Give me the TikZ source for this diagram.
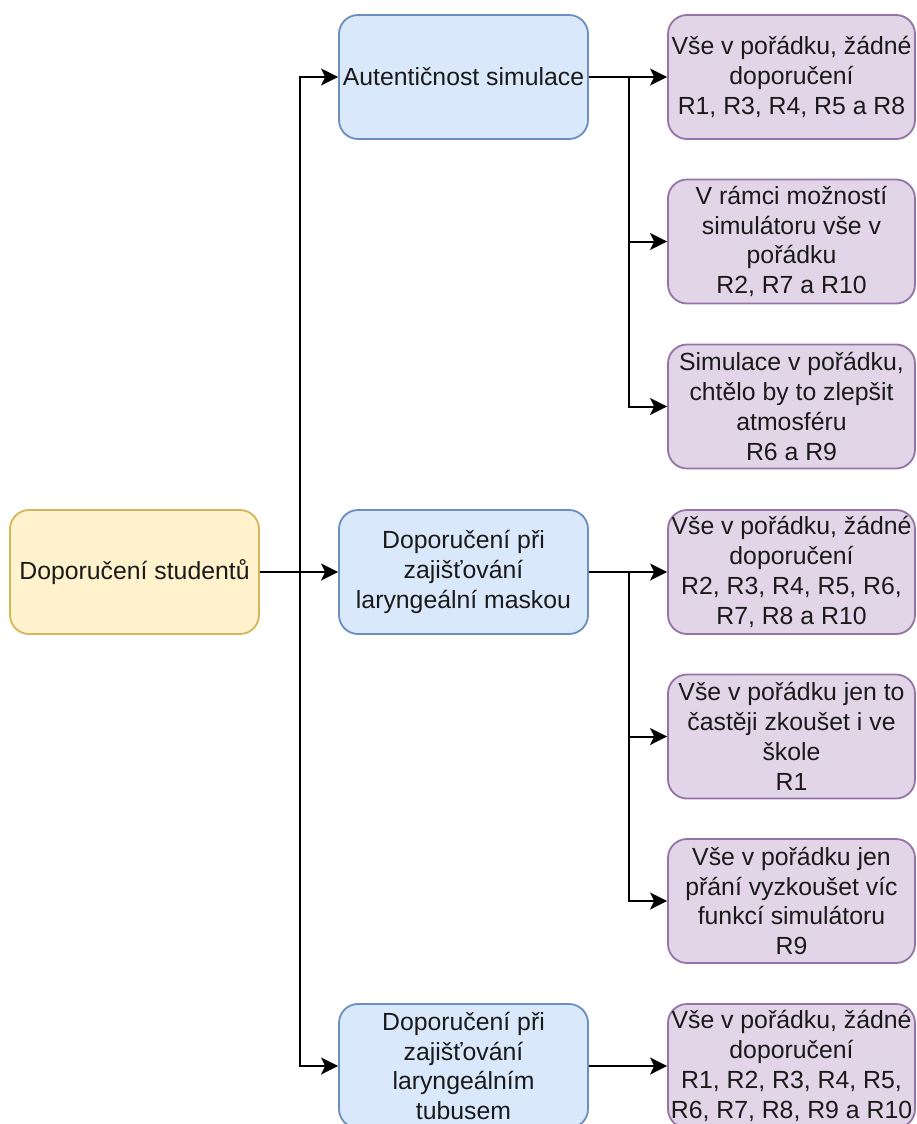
\documentclass[tikz,border=0pt]{standalone}
\usepackage{fontspec}
\setmainfont{Liberation Sans}
\usetikzlibrary{arrows.meta}

\definecolor{rootfill}{HTML}{FFF2CC}
\definecolor{rootline}{HTML}{D6B656}
\definecolor{topicfill}{HTML}{DAE8FC}
\definecolor{topicline}{HTML}{6C8EBF}
\definecolor{answerfill}{HTML}{E1D5E7}
\definecolor{answerline}{HTML}{9673A6}
\definecolor{ink}{HTML}{1A1A1A}

\tikzset{
  card/.style={rounded corners=19pt, line width=1.8pt, inner sep=0pt,
    align=center, text=ink, font=\fontsize{24.8}{29.8}\selectfont},
  rootbox/.style={card, draw=rootline, fill=rootfill,
    minimum width=249pt, minimum height=124pt},
  topicbox/.style={card, draw=topicline, fill=topicfill,
    minimum width=249pt, minimum height=124pt},
  answerbox/.style={card, draw=answerline, fill=answerfill,
    minimum width=247pt, minimum height=124pt},
  link/.style={draw=black, line width=2pt,
    -{Stealth[length=17pt, width=17pt, inset=4pt]}},
}

\begin{document}
\begin{tikzpicture}[x=1pt, y=-1pt]
\useasboundingbox (0,0) rectangle (917,1124);

% root
\node[rootbox] (root) at (134.5,572) {Doporučení studentů};

% topics
\node[topicbox] (auth) at (463.5,77) {Autentičnost simulace};
\node[topicbox] (mask) at (463.5,572) {Doporučení při\\zajišťování\\laryngeální maskou};
\node[topicbox] (tube) at (463.5,1066) {Doporučení při\\zajišťování\\laryngeálním\\tubusem};

% answers
\node[answerbox] (a1) at (791.5,77) {Vše v pořádku, žádné\\doporučení\\R1, R3, R4, R5 a R8};
\node[answerbox] (a2) at (791.5,241.5) {V rámci možností\\simulátoru vše v\\pořádku\\R2, R7 a R10};
\node[answerbox] (a3) at (791.5,406.5) {Simulace v pořádku,\\chtělo by to zlepšit\\atmosféru\\R6 a R9};
\node[answerbox] (b1) at (791.5,572) {Vše v pořádku, žádné\\doporučení\\R2, R3, R4, R5, R6,\\R7, R8 a R10};
\node[answerbox] (b2) at (791.5,736.5) {Vše v pořádku jen to\\častěji zkoušet i ve\\škole\\R1};
\node[answerbox] (b3) at (791.5,901) {Vše v pořádku jen\\přání vyzkoušet víc\\funkcí simulátoru\\R9};
\node[answerbox] (c1) at (791.5,1066) {Vše v pořádku, žádné\\doporučení\\R1, R2, R3, R4, R5,\\R6, R7, R8, R9 a R10};

% branch points
\coordinate (trunk) at (300,572);
\coordinate (ja) at (629,77);
\coordinate (jb) at (629,572);

% root to topics
\draw[link] (root.east) -- (trunk) |- (auth.west);
\draw[link] (root.east) -- (mask.west);
\draw[link] (root.east) -- (trunk) |- (tube.west);

% topics to answers
\draw[link] (auth.east) -- (a1.west);
\draw[link] (auth.east) -- (ja) |- (a2.west);
\draw[link] (auth.east) -- (ja) |- (a3.west);
\draw[link] (mask.east) -- (b1.west);
\draw[link] (mask.east) -- (jb) |- (b2.west);
\draw[link] (mask.east) -- (jb) |- (b3.west);
\draw[link] (tube.east) -- (c1.west);
\end{tikzpicture}
\end{document}
